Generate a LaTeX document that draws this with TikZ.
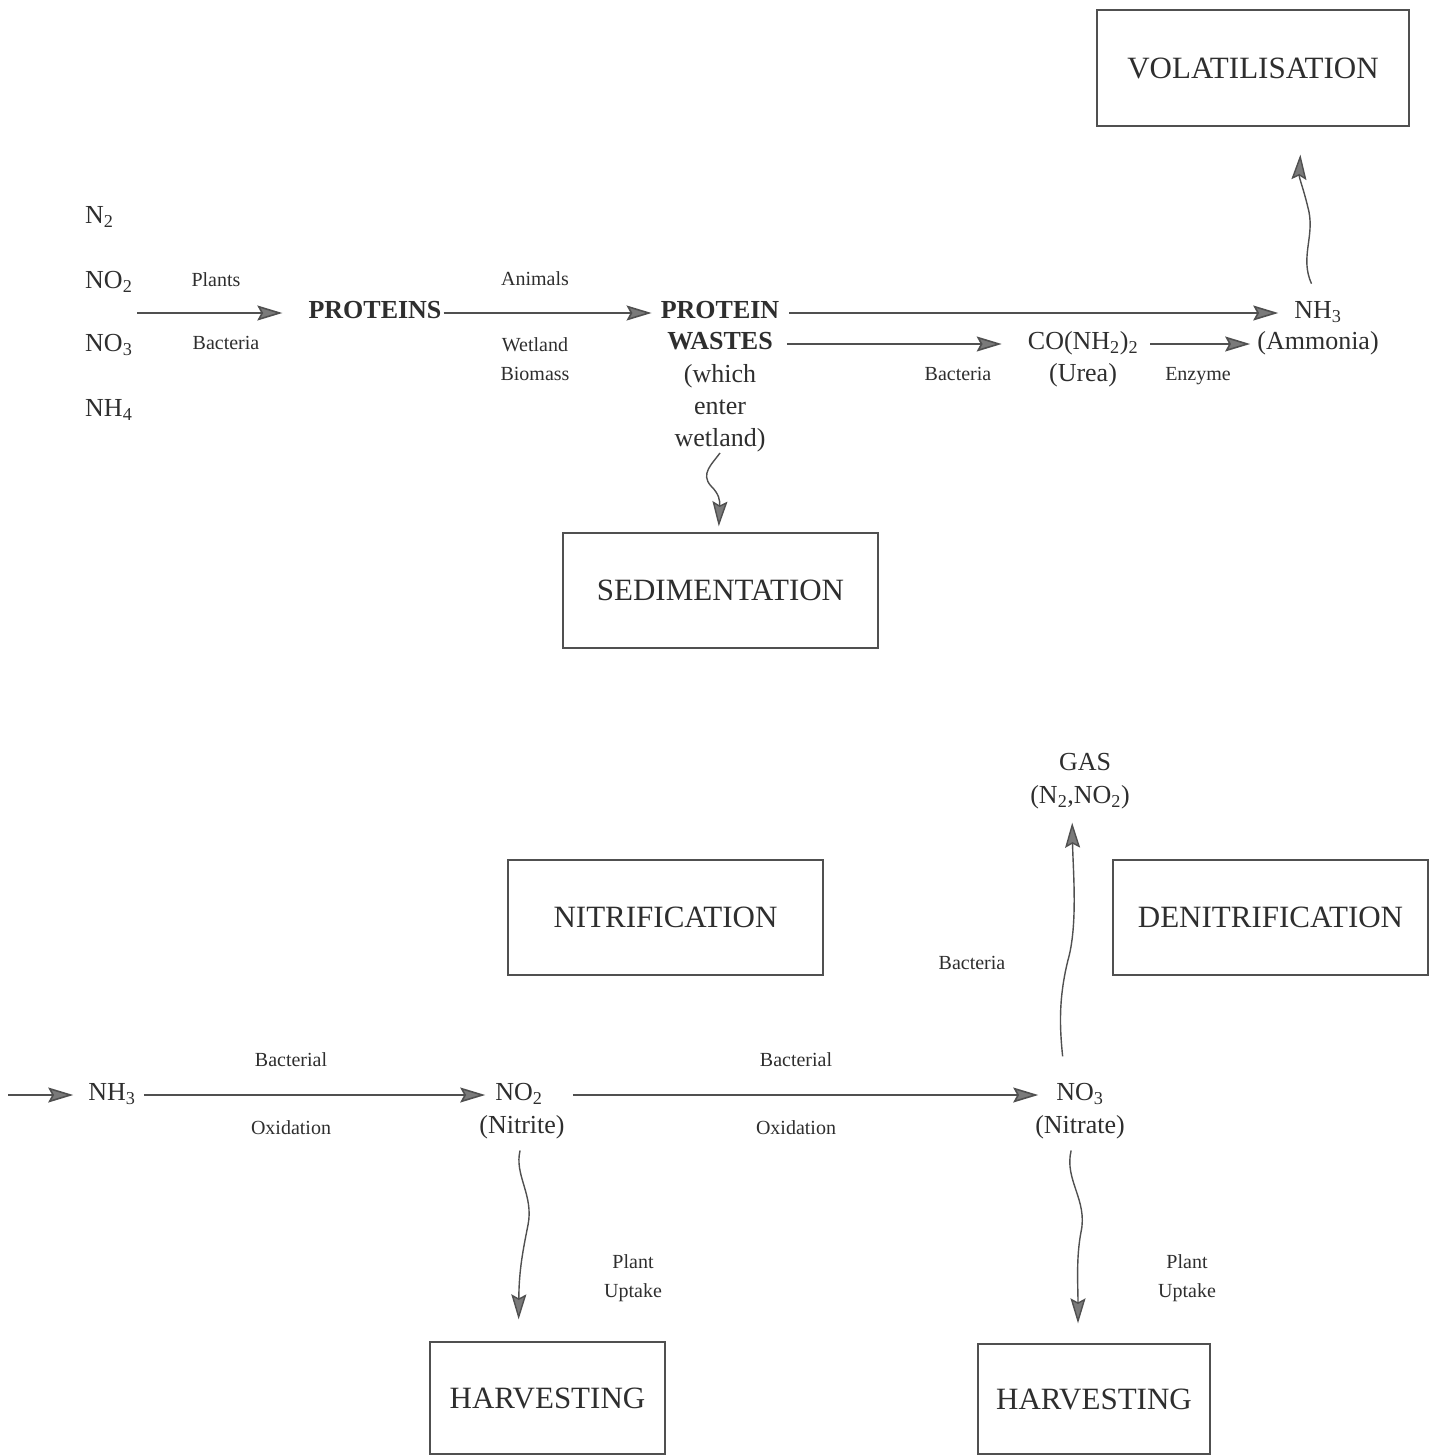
\documentclass[tikz,border=0pt]{standalone}
\usepackage{fontspec}
\setmainfont{Liberation Serif}
\usepackage{xcolor}
\usepackage{tikz}
\usetikzlibrary{positioning,arrows.meta}
\definecolor{ink}{HTML}{2E2E2E}
\definecolor{wire}{HTML}{505050}
\definecolor{tip}{HTML}{7A7A7A}
\tikzset{
    box/.style={rectangle, draw=wire, line width=1.3pt, minimum width=315pt, minimum height=115pt, font=\fontsize{31}{34}\selectfont, text=ink},
    chem/.style={inner sep=2pt, text height=18pt, text depth=7pt, font=\fontsize{26}{30}\selectfont, text=ink},
    heavy/.style={chem, font=\fontsize{26}{30}\selectfont\bfseries},
    lbl/.style={inner sep=1pt, align=center, font=\fontsize{20}{29}\selectfont, text=ink},
    flow/.style={-{Stealth[length=25pt, width=15pt, inset=4pt, fill=tip]}, line width=1.6pt, draw=wire},
    wavy/.style={flow, line width=1.4pt}
}
\begin{document}
\begin{tikzpicture}[x=1pt, y=-1pt]
\useasboundingbox (0,0) rectangle (1438,1456);

% boxes
\node[box, minimum width=312pt, minimum height=116pt] (vol) at (1253,68) {VOLATILISATION};
\node[box] (sed) at (720.5,590.5) {SEDIMENTATION};
\node[box] (nitr) at (665.5,917.5) {NITRIFICATION};
\node[box] (denitr) at (1270.5,917.5) {DENITRIFICATION};
\node[box, minimum width=235pt, minimum height=112pt] (harvA) at (547.5,1398) {HARVESTING};
\node[box, minimum width=232pt, minimum height=110pt] (harvB) at (1094,1399) {HARVESTING};

% upper chain
\node[chem, anchor=west] (n2) at (83,218) {N\textsubscript{2}};
\node[chem, anchor=west] (no2a) at (83,283) {NO\textsubscript{2}};
\node[chem, anchor=west] (no3a) at (83,346) {NO\textsubscript{3}};
\node[chem, anchor=west] (nh4) at (83,411) {NH\textsubscript{4}};
\coordinate (feed) at (137,313);

\node[heavy] (prot) at (375,313) {PROTEINS};
\node[heavy] (pw1) at (720,313) {PROTEIN};
\node[heavy] (pw2) at (720,344) {WASTES};
\node[lbl, font=\fontsize{26}{32}\selectfont] (pw3) at (720,408) {(which\\enter\\wetland)};
\node[chem] (urea) at (1083,344) {CO(NH\textsubscript{2})\textsubscript{2}};
\node[chem] (ureaname) at (1083,376) {(Urea)};
\node[chem] (nh3) at (1318,313) {NH\textsubscript{3}};
\node[chem] (amm) at (1318,344) {(Ammonia)};

\node[lbl] at (216,280) {Plants};
\node[lbl] at (226,343) {Bacteria};
\node[lbl] at (535,279) {Animals};
\node[lbl] at (535,359) {Wetland\\Biomass};
\node[lbl] at (958,374) {Bacteria};
\node[lbl] at (1198,376) {Enzyme};

\draw[flow, shorten >=24pt] (feed) -- (feed -| prot.west);
\draw[flow, shorten >=7pt] (prot) -- (pw1);
\draw[flow, shorten <=8pt, shorten >=14pt] (pw1) -- (nh3);
\draw[flow, shorten <=12pt, shorten >=24pt] (pw2) -- (urea);
\draw[flow, shorten <=10pt, shorten >=5pt] (urea) -- (amm);
\draw[wavy, shorten <=16pt, shorten >=28pt] (nh3.north) .. controls (1300,258) and (1314,238) .. (1309,212) .. controls (1304,190) and (1299,178) .. ([xshift=49pt]vol.south);
\draw[wavy, shorten >=6pt] (pw3.south) .. controls (712,464) and (700,474) .. (711,486) .. controls (719,494) and (720,500) .. ([xshift=-2pt]sed.north);

% lower chain
\coordinate (entry) at (8,1095);
\node[chem] (nh3b) at (112,1095) {NH\textsubscript{3}};
\node[chem] (no2) at (519,1095) {NO\textsubscript{2}};
\node[chem] (nitrite) at (522,1128) {(Nitrite)};
\node[chem] (no3) at (1080,1095) {NO\textsubscript{3}};
\node[chem] (nitrate) at (1080,1128) {(Nitrate)};
\node[chem] (gas) at (1085,765) {GAS};
\node[chem] (gasf) at (1080,798) {(N\textsubscript{2},NO\textsubscript{2})};

\node[lbl] at (291,1060) {Bacterial};
\node[lbl] at (291,1128) {Oxidation};
\node[lbl] at (796,1060) {Bacterial};
\node[lbl] at (796,1128) {Oxidation};
\node[lbl] at (972,963) {Bacteria};
\node[lbl] at (633,1278) {Plant\\Uptake};
\node[lbl] at (1187,1278) {Plant\\Uptake};

\draw[flow, shorten >=13pt] (entry) -- (entry -| nh3b.west);
\draw[flow, shorten <=6pt, shorten >=8pt] (nh3b) -- (no2);
\draw[flow, shorten <=28pt, shorten >=16pt] (no2) -- (no3);
\draw[wavy, shorten <=24pt, shorten >=10pt] ([xshift=-15pt]no3.north) .. controls (1060,1030) and (1058,1000) .. (1068,960) .. controls (1078,925) and (1073,870) .. ([xshift=-8pt]gasf.south);
\draw[wavy, shorten <=8pt, shorten >=22pt] (nitrite.south) .. controls (514,1175) and (534,1195) .. (528,1225) .. controls (523,1250) and (519,1270) .. ([xshift=-29pt]harvA.north);
\draw[wavy, shorten <=8pt, shorten >=20pt] ([xshift=-7pt]nitrate.south) .. controls (1064,1180) and (1088,1200) .. (1081,1232) .. controls (1076,1258) and (1078,1285) .. ([xshift=-16pt]harvB.north);

\end{tikzpicture}
\end{document}
